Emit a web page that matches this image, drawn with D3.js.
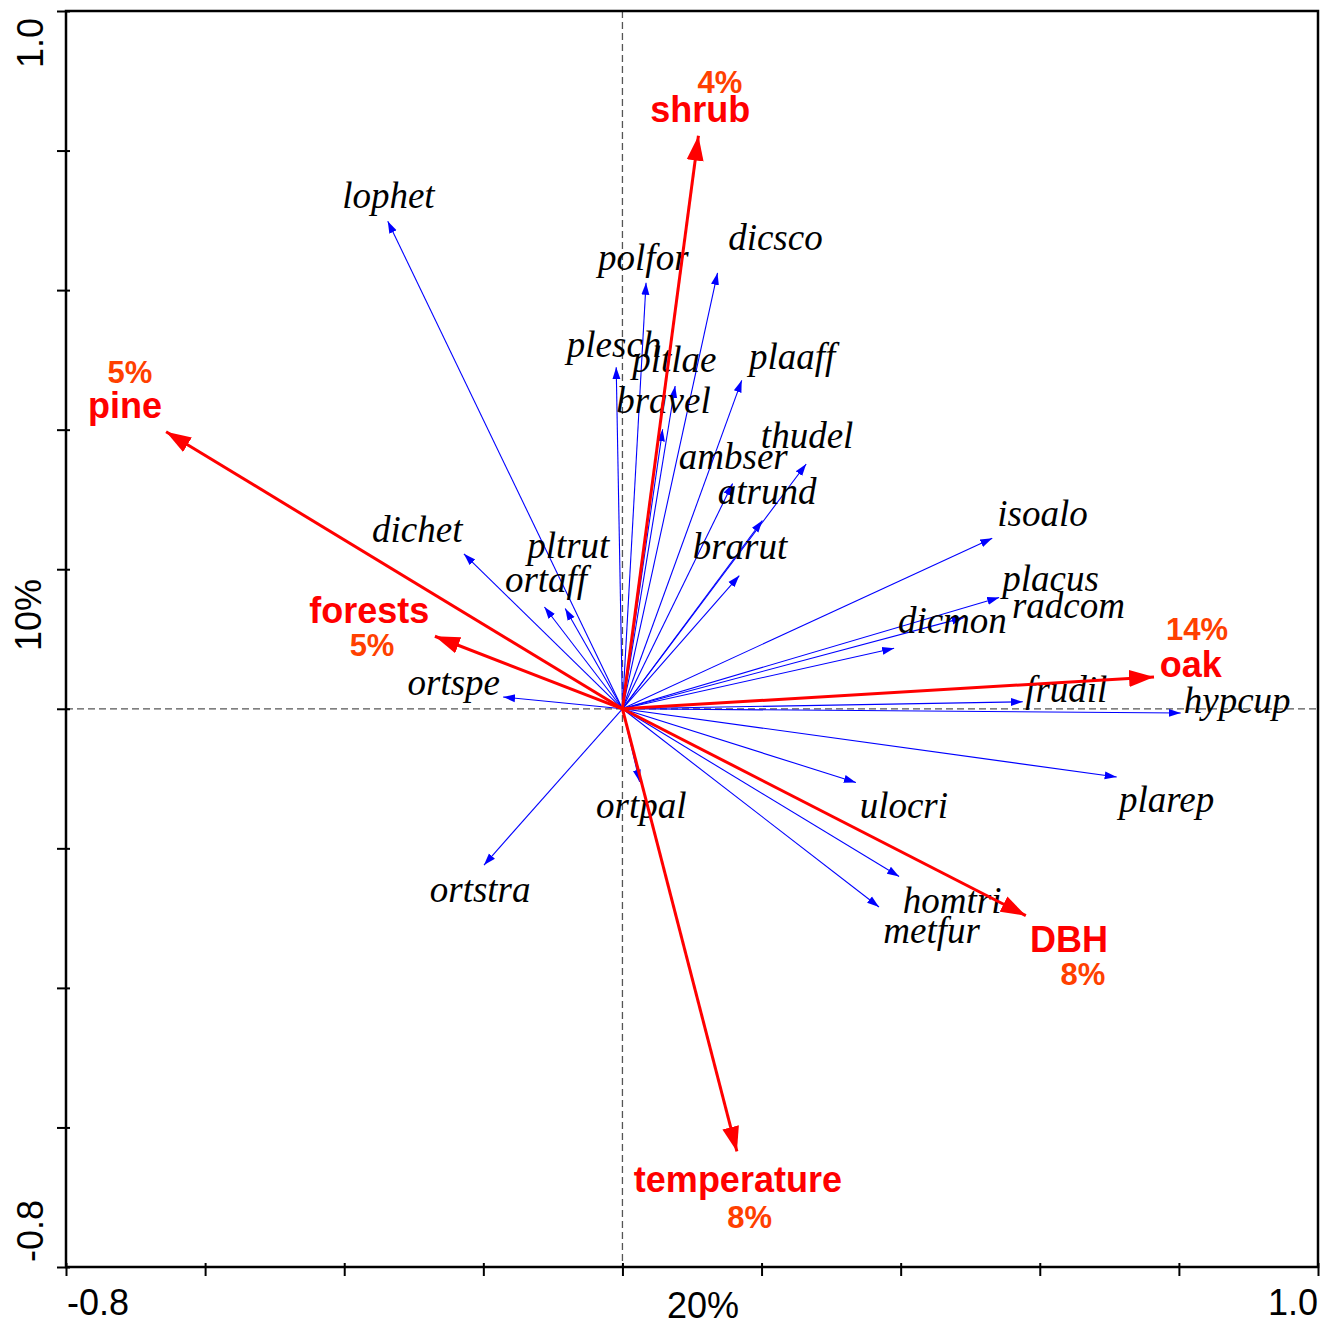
<!DOCTYPE html>
<html>
<head>
<meta charset="utf-8">
<script src="https://cdn.jsdelivr.net/npm/d3@7"></script>
<style>
  body { margin: 0; background: #fff; }
  .sp { font-family: "Liberation Serif", "Times New Roman", serif; font-style: italic; font-size: 37px; fill: #000; }
  .env { font-family: "Liberation Sans", Arial, sans-serif; font-weight: bold; font-size: 36px; fill: #ff0000; }
  .pct { font-family: "Liberation Sans", Arial, sans-serif; font-weight: bold; font-size: 31px; fill: #ff4000; }
  .tk { font-family: "Liberation Sans", Arial, sans-serif; font-size: 36px; fill: #000; }
</style>
</head>
<body>
<div id="chart"></div>
<script>
// species scores (arrow tips) and where their names sit
var species = ["lophet","polfor","dicsco","plesch","pltlae","plaaff","bravel","thudel","ambser","atrund","brarut",
  "dichet","pltrut","ortaff","ortspe","isoalo","placus","radcom","dicmon","frudil","hypcup","plarep",
  "ulocri","homtri","metfur","ortpal","ortstra"];
var speciesX = [-0.338, 0.034, 0.137, -0.009, 0.076, 0.172, 0.058, 0.265, 0.159, 0.202, 0.169,
  -0.229, -0.083, -0.113, -0.173, 0.533, 0.543, 0.492, 0.392, 0.577, 0.804, 0.712,
  0.337, 0.399, 0.370, 0.025, -0.200];
var speciesY = [0.700, 0.612, 0.626, 0.491, 0.464, 0.472, 0.402, 0.352, 0.324, 0.271, 0.192,
  0.223, 0.145, 0.147, 0.017, 0.245, 0.160, 0.131, 0.087, 0.010, -0.006, -0.098,
  -0.106, -0.241, -0.285, -0.106, -0.225];
var speciesLabelX = [-0.403, -0.035, 0.152, -0.080, 0.014, 0.182, -0.009, 0.199, 0.081, 0.137, 0.101,
  -0.360, -0.137, -0.169, -0.309, 0.539, 0.546, 0.560, 0.396, 0.579, 0.807, 0.714,
  0.341, 0.403, 0.375, -0.038, -0.277];
var speciesLabelY = [0.718, 0.629, 0.658, 0.504, 0.483, 0.487, 0.424, 0.374, 0.343, 0.293, 0.214,
  0.239, 0.216, 0.168, 0.020, 0.262, 0.169, 0.130, 0.108, 0.010, -0.006, -0.148,
  -0.157, -0.293, -0.336, -0.157, -0.277];

// environmental variables
var env = ["shrub","pine","forests","oak","DBH","temperature"];
var envX = [0.110, -0.661, -0.275, 0.770, 0.585, 0.166];
var envY = [0.827, 0.400, 0.106, 0.046, -0.299, -0.640];
var envPct = ["4%","5%","5%","14%","8%","8%"];
var envLabelX = [0.112, -0.715, -0.364, 0.817, 0.642, 0.166];
var envLabelY = [0.841, 0.417, 0.123, 0.046, -0.348, -0.693];
var pctLabelX = [0.140, -0.708, -0.360, 0.826, 0.662, 0.183];
var pctLabelY = [0.882, 0.467, 0.076, 0.099, -0.396, -0.744];

// axes
var domain = [-0.8, 1.0];
var tickValues = [-0.8, -0.6, -0.4, -0.2, 0, 0.2, 0.4, 0.6, 0.8, 1.0];
var axisLabelsX = ["-0.8", "1.0"];
var axisLabelsY = ["1.0", "-0.8"];
var xTitle = "20%", yTitle = "10%";

var width = 1326, height = 1327;
var plotL = 66, plotR = 1318, plotT = 11, plotB = 1267;

var x = d3.scaleLinear().domain(domain).range([plotL, plotR]);
var y = d3.scaleLinear().domain(domain).range([plotB, plotT]);

var svg = d3.select("#chart").append("svg")
  .attr("width", width)
  .attr("height", height);

var defs = svg.append("defs");
defs.append("marker")
  .attr("id", "headBlue")
  .attr("markerUnits", "userSpaceOnUse")
  .attr("viewBox", "0 -5 12 10")
  .attr("refX", 12).attr("refY", 0)
  .attr("markerWidth", 12).attr("markerHeight", 10)
  .attr("orient", "auto")
  .append("path").attr("d", "M0,-4L12,0L0,4Z").attr("fill", "#0000ff");
defs.append("marker")
  .attr("id", "headRed")
  .attr("markerUnits", "userSpaceOnUse")
  .attr("viewBox", "0 -9 25 18")
  .attr("refX", 25).attr("refY", 0)
  .attr("markerWidth", 25).attr("markerHeight", 18)
  .attr("orient", "auto")
  .append("path").attr("d", "M0,-8.5L25,0L0,8.5Z").attr("fill", "#ff0000");

// dashed zero lines
svg.append("line")
  .attr("x1", x(0)).attr("x2", x(0)).attr("y1", plotT).attr("y2", plotB)
  .attr("stroke", "#555").attr("stroke-width", 1.3).attr("stroke-dasharray", "7,4");
svg.append("line")
  .attr("x1", plotL).attr("x2", plotR).attr("y1", y(0)).attr("y2", y(0))
  .attr("stroke", "#555").attr("stroke-width", 1.3).attr("stroke-dasharray", "7,4");

// axis ticks
var gx = svg.append("g")
  .attr("transform", "translate(0," + plotB + ")")
  .call(d3.axisBottom(x).tickValues(tickValues).tickSize(9).tickFormat(""));
gx.select(".domain").remove();
gx.selectAll(".tick line").attr("y1", -4).attr("stroke-width", 2);

var gy = svg.append("g")
  .attr("transform", "translate(" + plotL + ",0)")
  .call(d3.axisLeft(y).tickValues(tickValues).tickSize(9).tickFormat(""));
gy.select(".domain").remove();
gy.selectAll(".tick line").attr("x1", 4).attr("stroke-width", 2);

svg.append("rect")
  .attr("x", plotL).attr("y", plotT)
  .attr("width", plotR - plotL).attr("height", plotB - plotT)
  .attr("fill", "none").attr("stroke", "#000").attr("stroke-width", 2.5);

// axis labels
svg.append("text").attr("class", "tk").attr("x", x(domain[0]) + 1).attr("y", 1315).text(axisLabelsX[0]);
svg.append("text").attr("class", "tk").attr("x", x(domain[1])).attr("y", 1315)
  .attr("text-anchor", "end").text(axisLabelsX[1]);
svg.append("text").attr("class", "tk").attr("x", 703).attr("y", 1318)
  .attr("text-anchor", "middle").text(xTitle);

svg.append("text").attr("class", "tk")
  .attr("transform", "translate(43," + (y(domain[1]) + 7) + ")rotate(-90)")
  .attr("text-anchor", "end").text(axisLabelsY[0]);
svg.append("text").attr("class", "tk")
  .attr("transform", "translate(43," + (y(domain[0]) - 5) + ")rotate(-90)")
  .text(axisLabelsY[1]);
svg.append("text").attr("class", "tk")
  .attr("transform", "translate(41,615)rotate(-90)")
  .attr("text-anchor", "middle").text(yTitle);

// pull the shaft back a little so the tip stays sharp
function shaft(tx, ty, back) {
  var dx = tx - x(0), dy = ty - y(0);
  var len = Math.sqrt(dx * dx + dy * dy);
  return [tx - dx / len * back, ty - dy / len * back];
}

// species arrows
var sp = svg.append("g");
species.forEach(function(name, i) {
  var tx = x(speciesX[i]), ty = y(speciesY[i]);
  var e = shaft(tx, ty, 1);
  sp.append("line")
    .attr("x1", x(0)).attr("y1", y(0))
    .attr("x2", e[0]).attr("y2", e[1])
    .attr("stroke", "#0000ff").attr("stroke-width", 1.1)
    .attr("marker-end", "url(#headBlue)");
});

// species labels
sp.selectAll("text.sp")
  .data(species)
  .enter().append("text")
  .attr("class", "sp")
  .attr("x", function(d, i) { return x(speciesLabelX[i]); })
  .attr("y", function(d, i) { return y(speciesLabelY[i]); })
  .text(function(d) { return d; });

// environment arrows
var ev = svg.append("g");
env.forEach(function(name, i) {
  var tx = x(envX[i]), ty = y(envY[i]);
  var e = shaft(tx, ty, 4);
  ev.append("line")
    .attr("x1", x(0)).attr("y1", y(0))
    .attr("x2", e[0]).attr("y2", e[1])
    .attr("stroke", "#ff0000").attr("stroke-width", 3)
    .attr("marker-end", "url(#headRed)");
});

ev.selectAll("text.env")
  .data(env)
  .enter().append("text")
  .attr("class", "env")
  .attr("text-anchor", "middle")
  .attr("x", function(d, i) { return x(envLabelX[i]); })
  .attr("y", function(d, i) { return y(envLabelY[i]); })
  .text(function(d) { return d; });

ev.selectAll("text.pct")
  .data(envPct)
  .enter().append("text")
  .attr("class", "pct")
  .attr("text-anchor", "middle")
  .attr("x", function(d, i) { return x(pctLabelX[i]); })
  .attr("y", function(d, i) { return y(pctLabelY[i]); })
  .text(function(d) { return d; });
</script>
</body>
</html>
